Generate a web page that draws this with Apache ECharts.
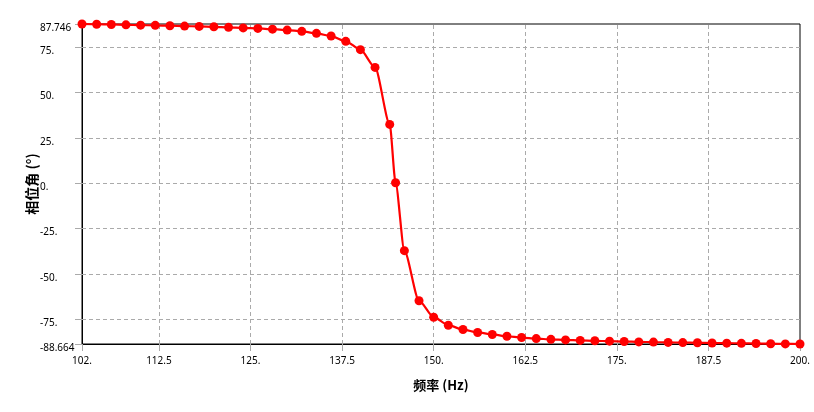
<!DOCTYPE html>
<html>
<head>
<meta charset="utf-8">
<script src="https://cdn.jsdelivr.net/npm/echarts@6/dist/echarts.min.js"></script>
<style>html,body{margin:0;padding:0;background:#fff}#c{width:814px;height:412px}</style>
</head>
<body>
<div id="c"></div>
<script>
const freq = [102,104,106,108,110,112,114,116,118,120,122,124,126,128,130,132,134,136,138,140,142,144,144.8,146,148,150,152,154,156,158,160,162,164,166,168,170,172,174,176,178,180,182,184,186,188,190,192,194,196,198,200];
const phase = [87.746,87.6,87.5,87.3,87.1,87.0,86.8,86.6,86.4,86.2,85.9,85.6,85.3,84.9,84.4,83.7,82.6,81.1,78.2,73.6,63.8,32.4,0.2,-37.2,-64.8,-73.9,-78.3,-80.7,-82.3,-83.4,-84.4,-85.1,-85.7,-86.1,-86.4,-86.7,-86.9,-87.1,-87.3,-87.5,-87.6,-87.8,-87.9,-88.0,-88.1,-88.2,-88.3,-88.4,-88.5,-88.6,-88.664];
const xTicks = [102,112.5,125,137.5,150,162.5,175,187.5,200];
const yTicks = [-88.664,-75,-50,-25,0,25,50,75,87.746];
const xGrid = [112.5,125,137.5,150,162.5,175,187.5];
const yGrid = [-75,-50,-25,0,25,50,75];
const xName = '频率 (Hz)';
const yName = '相位角 (°)';

const fmt = v => Number.isInteger(v) ? v + '.' : String(v);
const font = "'Noto Sans', 'Noto Sans CJK SC', sans-serif";
const gridLineStyle = {color:'#aaa', type:[4,3], width:1};

const chart = echarts.init(document.getElementById('c'), null, {renderer:'canvas'});
chart.setOption({
  animation:false,
  grid:{left:82, right:14, top:24, bottom:68, show:true, borderColor:'#000', borderWidth:1, backgroundColor:'transparent'},
  xAxis:{
    type:'value', min:102, max:200,
    name:xName, nameLocation:'middle', nameGap:35, nameMoveOverlap:false,
    nameTextStyle:{fontFamily:"'Noto Sans CJK SC', sans-serif", fontWeight:'bold', fontSize:13, color:'#000'},
    axisLine:{show:true, onZero:false, lineStyle:{color:'#000', width:1}},
    axisTick:{show:true, length:7, lineStyle:{color:'#aaa'}, customValues:xTicks},
    axisLabel:{customValues:xTicks, formatter:fmt, color:'#000', fontSize:10, fontFamily:font, margin:12, showMinLabel:true, showMaxLabel:true},
    splitLine:{show:false}
  },
  yAxis:{
    type:'value', min:-88.664, max:87.746,
    name:yName, nameLocation:'middle', nameGap:43, nameRotate:90, nameMoveOverlap:false,
    nameTextStyle:{fontFamily:"'Noto Sans CJK SC', sans-serif", fontWeight:'bold', fontSize:14, color:'#000'},
    axisLine:{show:true, onZero:false, lineStyle:{color:'#000', width:1}},
    axisTick:{show:true, length:7, lineStyle:{color:'#aaa'}, customValues:yTicks},
    axisLabel:{customValues:yTicks, formatter:fmt, color:'#000', fontSize:10, fontFamily:font, margin:42, align:'left', verticalAlign:'top', lineHeight:8, showMinLabel:true, showMaxLabel:true},
    splitLine:{show:false}
  },
  series:[{
    type:'line',
    data:freq.map((f,i)=>[f, phase[i]]),
    smooth:0.25, smoothMonotone:'x',
    symbol:'circle', symbolSize:9,
    itemStyle:{color:'#ff0000'},
    lineStyle:{color:'#ff0000', width:2.2},
    z:5,
    markLine:{
      silent:true, symbol:'none', label:{show:false},
      lineStyle:gridLineStyle,
      data:[...xGrid.map(v=>({xAxis:v})), ...yGrid.map(v=>({yAxis:v}))],
      z:1
    }
  }]
});
</script>
</body>
</html>
